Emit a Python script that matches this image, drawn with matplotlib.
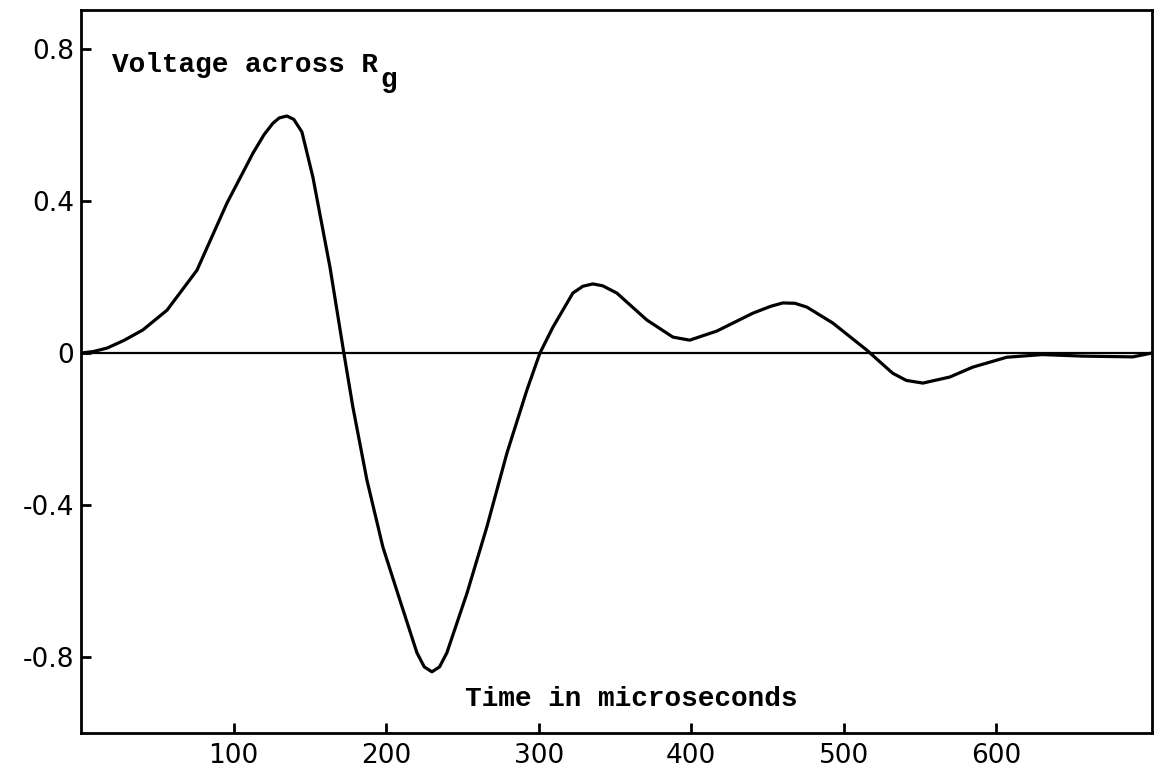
import matplotlib
matplotlib.use("Agg")
import matplotlib.pyplot as plt

# time in microseconds, voltage across R_g
time_us = [0, 8, 17, 28, 40.6, 56.4, 76, 95.7, 112.7, 120, 125.8, 130, 135,
           139.5, 144.8, 152, 163.2, 172.3, 178.2, 187.4, 197.9, 209, 220.2,
           225, 230, 235, 239.8, 253, 266, 279.2, 292.3, 300.8, 309.3, 322.4,
           329, 335.5, 342, 351.2, 370.9, 388, 399, 416.8, 440.4, 452, 460,
           468, 475.8, 492.8, 515, 532, 541, 551.8, 569.5, 584.5, 606.8, 630,
           656.6, 689.4, 701.8]
voltage = [0, 0.004, 0.013, 0.033, 0.061, 0.113, 0.218, 0.395, 0.526, 0.575,
           0.605, 0.619, 0.624, 0.615, 0.582, 0.463, 0.226, 0, -0.142, -0.334,
           -0.511, -0.65, -0.789, -0.826, -0.839, -0.826, -0.789, -0.632,
           -0.458, -0.263, -0.097, 0, 0.068, 0.158, 0.176, 0.182, 0.177,
           0.158, 0.087, 0.042, 0.034, 0.058, 0.105, 0.123, 0.132, 0.131,
           0.121, 0.079, 0.008, -0.053, -0.072, -0.079, -0.063, -0.037,
           -0.011, -0.004, -0.008, -0.01, 0]

x_ticks = [100, 200, 300, 400, 500, 600]
y_ticks = [0.8, 0.4, 0, -0.4, -0.8]
y_tick_labels = ["0.8", "0.4", "0", "-0.4", "-0.8"]

fig = plt.figure(figsize=(11.62, 7.68), dpi=100)
ax = fig.add_axes([81 / 1162, 1 - 733 / 768, (1152 - 81) / 1162, (733 - 10) / 768])

ax.axhline(0, color="black", lw=1.6)
ax.plot(time_us, voltage, color="black", lw=2.3, solid_joinstyle="round")

ax.set_xlim(0, 702)
ax.set_ylim(-1.0, 0.903)

for s in ax.spines.values():
    s.set_linewidth(2.0)

ax.set_xticks(x_ticks)
ax.set_yticks(y_ticks)
ax.set_yticklabels(y_tick_labels)
ax.tick_params(direction="in", length=7, width=2, labelsize=19, color="black")
ax.tick_params(axis="x", pad=7)
ax.tick_params(axis="y", pad=5)

mono = {"family": "Liberation Mono", "weight": "bold", "size": 20}
ax.text(20, 0.74, "Voltage across R", va="baseline", ha="left", **mono)
ax.text(196, 0.70, "g", va="baseline", ha="left", **mono)
ax.text(252, -0.91, "Time in microseconds", va="center", ha="left", **mono)

fig.savefig("out.png", dpi=100)
